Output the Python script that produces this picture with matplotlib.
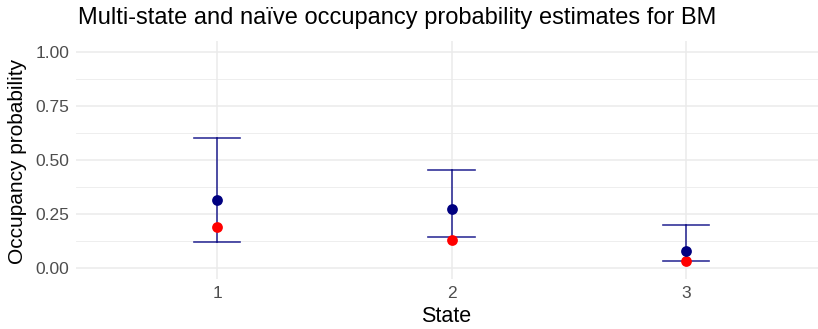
import matplotlib.pyplot as plt
import numpy as np

plt.rcParams['font.family'] = ['Liberation Sans', 'DejaVu Sans']

states = ['1', '2', '3']
ms_est = [0.315, 0.272, 0.081]
ms_lower = [0.123, 0.143, 0.032]
ms_upper = [0.603, 0.454, 0.200]
naive_est = [0.192, 0.131, 0.034]

W, H = 818, 329
fig = plt.figure(figsize=(W / 100, H / 100), dpi=100)
left, right, top, bottom = 76.3, 826.7, 40.9, 279.1
ax = fig.add_axes([left / W, 1 - bottom / H, (right - left) / W, (bottom - top) / H])

x = np.arange(1, len(states) + 1)
ax.set_xlim(0.4, 3.6)
ax.set_ylim(-0.05, 1.05)

# grid like theme_minimal
for v in np.arange(0.125, 1.0, 0.25):
    ax.axhline(v, color='#ebebeb', lw=0.6, zorder=0)
for v in np.arange(0, 1.01, 0.25):
    ax.axhline(v, color='#ebebeb', lw=1.1, zorder=0)
for v in x:
    ax.axvline(v, color='#ebebeb', lw=1.1, zorder=0)

for xi, lo, hi in zip(x, ms_lower, ms_upper):
    ax.plot([xi, xi], [lo, hi], color='navy', alpha=0.8, lw=1.2, zorder=2)
    ax.plot([xi - 0.1, xi + 0.1], [lo, lo], color='navy', alpha=0.8, lw=1.2, zorder=2)
    ax.plot([xi - 0.1, xi + 0.1], [hi, hi], color='navy', alpha=0.8, lw=1.2, zorder=2)

ax.scatter(x, naive_est, s=60, color='red', zorder=3, linewidths=0)
ax.scatter(x, ms_est, s=60, color='navy', zorder=4, linewidths=0)

for s in ax.spines.values():
    s.set_visible(False)
ax.set_xticks(x)
ax.set_xticklabels(states)
ax.set_yticks([0, 0.25, 0.5, 0.75, 1.0])
ax.set_yticklabels(['0.00', '0.25', '0.50', '0.75', '1.00'])
ax.tick_params(length=0, labelsize=12.5, colors='#4d4d4d', pad=5)

fig.text(18 / W, 1 - 161 / H, 'Occupancy probability', rotation=90,
         ha='center', va='center', fontsize=15)
fig.text(446 / W, 1 - 317 / H, 'State', ha='center', va='center', fontsize=15.5)
fig.text(78 / W, 1 - 18 / H, 'Multi-state and na\u00efve occupancy probability estimates for BM',
         ha='left', va='center', fontsize=17)

fig.savefig('out.png', dpi=100)
